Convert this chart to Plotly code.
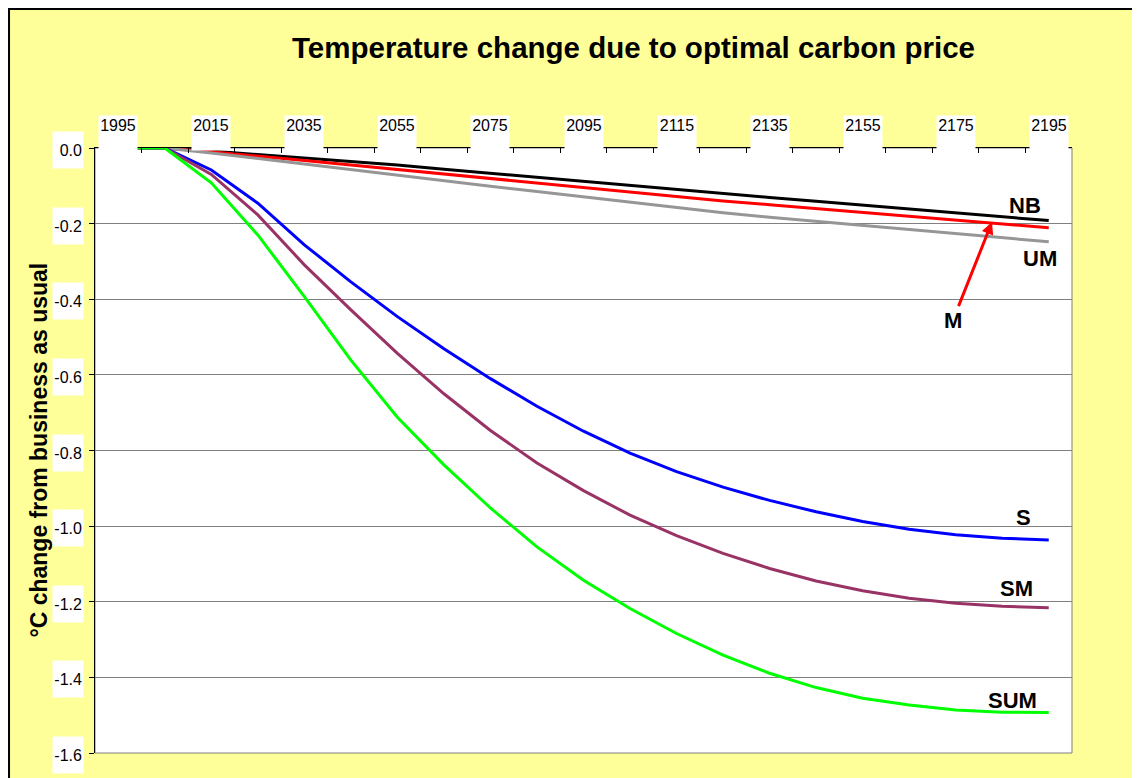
import plotly.graph_objects as go

# years on the category axis (one point per decade)
years = [1995, 2005, 2015, 2025, 2035, 2045, 2055, 2065, 2075, 2085, 2095,
         2105, 2115, 2125, 2135, 2145, 2155, 2165, 2175, 2185, 2195]
tick_labels = ["1995", "2015", "2035", "2055", "2075", "2095",
               "2115", "2135", "2155", "2175", "2195"]
y_ticks = [0.0, -0.2, -0.4, -0.6, -0.8, -1.0, -1.2, -1.4, -1.6]

nb = [0, 0, -0.008, -0.017, -0.026, -0.035, -0.045, -0.056, -0.067, -0.078, -0.089,
      -0.100, -0.111, -0.121, -0.131, -0.141, -0.151, -0.161, -0.171, -0.182, -0.192]
m = [0, 0, -0.010, -0.021, -0.033, -0.045, -0.057, -0.069, -0.081, -0.093, -0.105,
     -0.117, -0.129, -0.140, -0.150, -0.160, -0.170, -0.180, -0.190, -0.200, -0.211]
um = [0, 0, -0.013, -0.028, -0.043, -0.058, -0.072, -0.087, -0.101, -0.115, -0.129,
      -0.143, -0.157, -0.171, -0.183, -0.194, -0.205, -0.216, -0.227, -0.238, -0.248]
s = [0, 0, -0.058, -0.146, -0.256, -0.354, -0.446, -0.531, -0.610, -0.683, -0.749,
     -0.807, -0.856, -0.897, -0.932, -0.962, -0.988, -1.008, -1.023, -1.032, -1.037]
sm = [0, 0, -0.070, -0.177, -0.309, -0.428, -0.543, -0.650, -0.747, -0.833, -0.906,
      -0.971, -1.025, -1.072, -1.112, -1.145, -1.171, -1.191, -1.204, -1.212, -1.216]
sum_ = [0, 0, -0.092, -0.230, -0.393, -0.561, -0.712, -0.838, -0.952, -1.055, -1.143,
        -1.218, -1.284, -1.341, -1.389, -1.427, -1.455, -1.473, -1.486, -1.492, -1.493]

series = [
    ("NB", nb, "black"),
    ("M", m, "#FF0000"),
    ("UM", um, "#969696"),
    ("S", s, "#0000FF"),
    ("SM", sm, "#993366"),
    ("SUM", sum_, "#00FF00"),
]

font = "Liberation Sans, Arial, sans-serif"

fig = go.Figure()
for name, vals, col in series:
    fig.add_trace(go.Scatter(x=years, y=vals, mode="lines", name=name,
                             line=dict(color=col, width=3)))

ann = []
# x tick labels with white boxes
for lab in tick_labels:
    ann.append(dict(x=int(lab), y=1, xref="x", yref="paper", text=lab,
                    yanchor="bottom", yshift=-3,
                    showarrow=False, bgcolor="white", width=36, height=32,
                    valign="top", font=dict(size=16, color="black", family=font)))
# y tick labels with white boxes
for v in y_ticks:
    ann.append(dict(x=-0.0276, y=v, xref="paper", yref="y", text="%.1f" % v,
                    xanchor="center", yshift=-2,
                    showarrow=False, bgcolor="white", width=28, height=34,
                    align="right", font=dict(size=16, color="black", family=font)))

# series labels
labels = [("NB", 2189.9, -0.153), ("UM", 2193.1, -0.291), ("S", 2189.5, -0.976),
          ("SM", 2188.0, -1.166), ("SUM", 2187.3, -1.46)]
for t, xx, yy in labels:
    ann.append(dict(x=xx, y=yy, text="<b>%s</b>" % t, showarrow=False,
                    font=dict(size=22, color="black", family=font)))
ann.append(dict(x=2182.8, y=-0.196, text="<b>M</b>", showarrow=True,
                ax=-39, ay=98, arrowcolor="#FF0000", arrowwidth=3, arrowhead=2,
                arrowsize=0.8, font=dict(size=22, color="black", family=font)))

ann.append(dict(x=0.551, y=1.197, xref="paper", yref="paper",
                text="<b>Temperature change due to optimal carbon price</b>",
                showarrow=False, font=dict(size=29.5, color="black", family=font)))
ann.append(dict(x=-0.0583, y=0.5, xref="paper", yref="paper", xanchor="center",
                text="<b>°C change from business as usual</b>", textangle=-90,
                showarrow=False, font=dict(size=23, color="black", family=font)))

fig.update_layout(
    width=1132, height=770,
    margin=dict(l=87, r=68, t=140, b=25),
    paper_bgcolor="white", plot_bgcolor="white",
    showlegend=False,
    annotations=ann,
    shapes=[
        dict(type="rect", xref="paper", yref="paper", x0=-0.0880, x1=1.08,
             y0=-0.06, y1=1.2298, fillcolor="#FFFF99",
             line=dict(color="black", width=2), layer="below"),
        dict(type="rect", xref="paper", yref="paper", x0=0, x1=1, y0=0, y1=1,
             fillcolor="white", line=dict(color="#808080", width=1), layer="below"),
    ],
    xaxis=dict(range=[1990, 2200], side="top", showgrid=False, zeroline=False,
               showline=True, linecolor="black", linewidth=1,
               tickvals=list(range(1990, 2201, 10)), ticks="inside", ticklen=5,
               tickcolor="black", showticklabels=False),
    yaxis=dict(range=[-1.6, 0], showgrid=True, gridcolor="#808080", gridwidth=1,
               zeroline=False, showline=True, linecolor="black", linewidth=1,
               tickvals=y_ticks, ticks="outside", ticklen=5, tickcolor="black",
               showticklabels=False),
)

fig.write_html("out.html")
